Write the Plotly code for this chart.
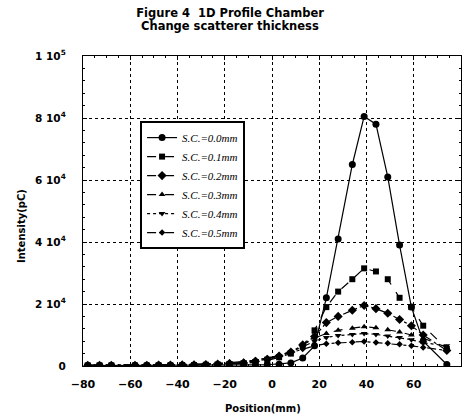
import plotly.graph_objects as go

positions = [-78, -73, -68, -58, -53, -48, -43, -38, -33, -28, -23, -18, -12, -7, -2,
             3, 8, 13, 18, 23, 28, 34, 39, 44, 49, 54, 59, 64, 74]

sc_00 = [150, 150, 150, 150, 150, 150, 200, 200, 200, 250, 250, 300, 300, 350, 400,
         600, 1000, 2600, 6500, 22000, 41000, 65000, 80500, 78000, 61000, 39000, 19000, 8000, 500]
sc_01 = [200, 200, 200, 200, 200, 250, 250, 300, 300, 400, 500, 600, 800, 1200, 1800,
         2800, 4000, 6500, 11500, 19000, 24000, 28000, 31500, 30500, 28000, 22000, 19000, 13000, 5500]
sc_02 = [200, 200, 200, 250, 250, 300, 300, 350, 400, 500, 600, 800, 1000, 1500, 2200,
         3200, 4500, 6800, 9500, 14000, 16000, 18000, 19500, 18500, 17000, 15000, 13000, 10000, 5000]
sc_03 = [200, 200, 250, 250, 300, 300, 350, 400, 450, 550, 700, 900, 1200, 1700, 2400,
         3400, 4700, 6800, 9000, 10500, 11500, 12200, 12700, 12300, 11700, 11000, 10000, 9000, 6000]
sc_04 = [250, 250, 250, 300, 300, 350, 400, 450, 500, 600, 800, 1000, 1300, 1800, 2500,
         3400, 4600, 6200, 8000, 9200, 9800, 10200, 10500, 10200, 9700, 9200, 8500, 7500, 6500]
sc_05 = [250, 250, 300, 300, 350, 400, 450, 500, 550, 650, 850, 1100, 1400, 1900, 2500,
         3300, 4300, 5500, 6500, 7200, 7500, 7700, 7900, 7600, 7300, 7000, 6500, 6000, 5000]

series_names = ["S.C.=0.0mm", "S.C.=0.1mm", "S.C.=0.2mm", "S.C.=0.3mm", "S.C.=0.4mm", "S.C.=0.5mm"]
series_values = [sc_00, sc_01, sc_02, sc_03, sc_04, sc_05]

y_tick_vals = [0, 20000, 40000, 60000, 80000, 100000]
y_tick_text = ["0", "2 10<sup>4</sup>", "4 10<sup>4</sup>", "6 10<sup>4</sup>", "8 10<sup>4</sup>", "1 10<sup>5</sup>"]
x_tick_vals = [-80, -60, -40, -20, 0, 20, 40, 60, 80]

styles = [
    dict(dash="solid", symbol="circle", size=7),
    dict(dash="dash", symbol="square", size=6),
    dict(dash="dashdot", symbol="diamond", size=7),
    dict(dash="dash", symbol="triangle-up", size=6),
    dict(dash="dot", symbol="triangle-down", size=6),
    dict(dash="dashdot", symbol="diamond", size=5),
]

fig = go.Figure()
for name, vals, st in zip(series_names, series_values, styles):
    fig.add_trace(go.Scatter(
        x=positions, y=vals, name=name, mode="lines+markers",
        line=dict(color="black", width=1.2, dash=st["dash"]),
        marker=dict(color="black", symbol=st["symbol"], size=st["size"]),
    ))

bold = dict(family="DejaVu Sans", color="black", weight="bold")

fig.update_layout(
    width=462, height=414,
    margin=dict(l=83, r=1, t=56, b=48),
    paper_bgcolor="white", plot_bgcolor="white",
    title=dict(
        text="Figure 4  1D Profile Chamber",
        x=0.498, xanchor="center", xref="container",
        y=1 - 13 / 414, yanchor="middle",
        font=dict(size=11.5, **bold),
    ),
    showlegend=True,
    legend=dict(
        x=0.151, y=0.79, xanchor="left", yanchor="top",
        bgcolor="white", bordercolor="black", borderwidth=2,
        font=dict(family="Liberation Serif", size=11, color="black", style="italic"),
        itemwidth=30, tracegroupgap=0,
    ),
    xaxis=dict(
        range=[-80, 80], tickvals=x_tick_vals, ticks="inside", ticklen=4,
        tickcolor="black", showline=True, linecolor="black", linewidth=1.2, mirror="ticks",
        showgrid=True, gridcolor="black", griddash="dot", gridwidth=1,
        zeroline=False, tickfont=dict(size=11, **bold), ticklabelstandoff=8,
        minor=dict(ticks="inside", ticklen=2, tickcolor="black", dtick=5, showgrid=False),
    ),
    yaxis=dict(
        range=[0, 100000], tickvals=y_tick_vals, ticktext=y_tick_text,
        ticks="inside", ticklen=4, tickcolor="black",
        showline=True, linecolor="black", linewidth=1.2, mirror="ticks",
        showgrid=True, gridcolor="black", griddash="dot", gridwidth=1,
        zeroline=False, tickfont=dict(size=10.5, **bold),
        ticklabelstandoff=14,
        minor=dict(ticks="inside", ticklen=2, tickcolor="black", dtick=4000, showgrid=False),
    ),
    annotations=[
        dict(text="Change scatterer thickness", xref="paper", yref="paper",
             x=(230 - 83) / 378, y=(366 - 26) / 310, showarrow=False,
             xanchor="center", yanchor="middle", font=dict(size=11.5, **bold)),
        dict(text="Intensity(pC)", xref="paper", yref="paper", x=(21 - 83) / 378, y=(366 - 226) / 310,
             textangle=-90, showarrow=False, xanchor="center", yanchor="middle",
             font=dict(size=10, **bold)),
        dict(text="Position(mm)", xref="paper", yref="paper", x=(263 - 83) / 378, y=(366 - 408) / 310,
             showarrow=False, xanchor="center", yanchor="middle",
             font=dict(size=10, **bold)),
    ],
)

fig.write_html("out.html", config={"displayModeBar": False},
               post_script="document.body.style.margin='0';")
